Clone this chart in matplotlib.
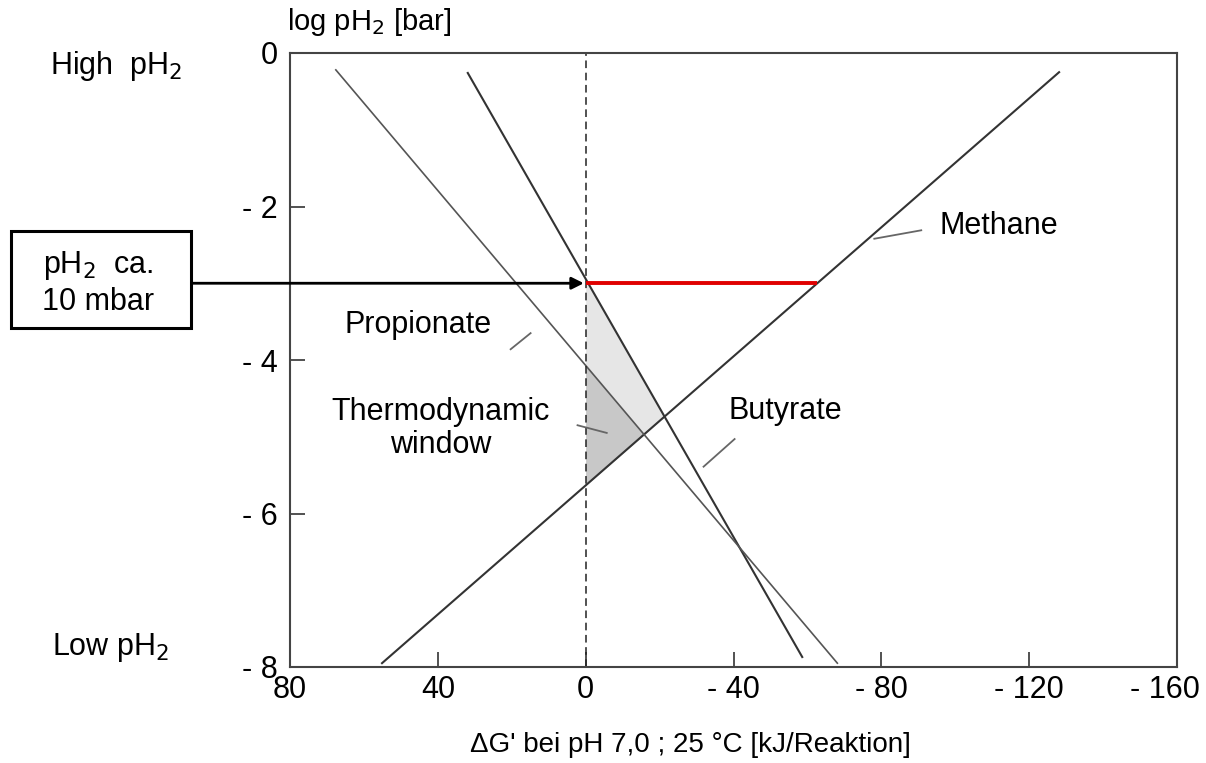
import numpy as np
import matplotlib
matplotlib.use("Agg")
import matplotlib.pyplot as plt
from matplotlib.patches import Rectangle
from matplotlib.transforms import ScaledTranslation

plt.rcParams['font.family'] = ['Liberation Sans', 'DejaVu Sans']

# Endpoints of the lines (dG' in kJ, log pH2 in bar)
methane_x = [55.1, -128.1]
methane_y = [-7.95, -0.25]
butyrate_x = [31.9, -58.6]
butyrate_y = [-0.26, -7.87]
propionate_x = [67.6, -68.1]
propionate_y = [-0.22, -7.95]

ph2_level = -3.0   # 10 mbar

x_ticks = [80, 40, 0, -40, -80, -120, -160]
x_labels = ["80", "40", "0", "- 40", "- 80", "- 120", "- 160"]
y_ticks = [0, -2, -4, -6, -8]
y_labels = ["0", "- 2", "- 4", "- 6", "- 8"]

# labels: text, position, leader line
labels = [
    ("Methane", (-111.9, -2.25), [(-78.1, -2.42), (-90.8, -2.31)]),
    ("Propionate", (45.4, -3.54), [(20.3, -3.86), (14.9, -3.65)]),
    ("Thermodynamic\nwindow", (39.2, -4.89), [(2.2, -4.85), (-5.7, -4.95)]),
    ("Butyrate", (-54.1, -4.66), [(-31.9, -5.39), (-40.3, -5.03)]),
]


def x_at(xs, ys, y):
    order = np.argsort(ys)
    return np.interp(y, np.array(ys)[order], np.array(xs)[order])


W, H = 1206, 763
fig = plt.figure(figsize=(W / 100, H / 100), dpi=100)
ax = fig.add_axes([290 / W, 1 - 667 / H, 887 / W, 614 / H])

# thermodynamic window shading
yy = np.linspace(-8, 0, 2000)
xm = x_at(methane_x, methane_y, yy)
xb = x_at(butyrate_x, butyrate_y, yy)
xp = x_at(propionate_x, propionate_y, yy)
light_edge = np.maximum(xm, xb)
ax.fill_betweenx(yy, 0, light_edge, where=light_edge < 0, color="#e6e6e6", lw=0)
dark_edge = np.maximum(xm, xp)
ax.fill_betweenx(yy, 0, dark_edge, where=dark_edge < 0, color="#c8c8c8", lw=0)

ax.plot(methane_x, methane_y, color="#333333", lw=1.5)
ax.plot(butyrate_x, butyrate_y, color="#333333", lw=1.5)
ax.plot(propionate_x, propionate_y, color="#555555", lw=1.2)

ax.axvline(0, color="#222222", lw=1.1, ls=(0, (5, 3)))

x_end = x_at(methane_x, methane_y, ph2_level)
ax.plot([0, x_end], [ph2_level, ph2_level], color="#e00000", lw=2.8, solid_capstyle="butt")

for text, pos, leader in labels:
    ax.text(pos[0], pos[1], text, fontsize=22, ha="center", va="center", linespacing=1.15)
    (x1, y1), (x2, y2) = leader
    ax.plot([x1, x2], [y1, y2], color="#666666", lw=1.3)

ax.set_xlim(80, -160)
ax.set_ylim(-8, 0)
ax.set_xticks(x_ticks)
ax.set_xticklabels(x_labels)
ax.set_yticks(y_ticks)
ax.set_yticklabels(y_labels)
ax.tick_params(direction="in", length=11, width=1.2, color="#333333", labelsize=22)
ax.tick_params(axis="x", pad=6)
ax.tick_params(axis="y", pad=9)
last = ax.get_xticklabels()[-1]
last.set_transform(last.get_transform() + ScaledTranslation(-12 / 100, 0, fig.dpi_scale_trans))
for s in ax.spines.values():
    s.set_color("#444444")
    s.set_linewidth(1.5)

fig.text(690 / W, 1 - 745 / H, "\u0394G' bei pH 7,0 ; 25 °C [kJ/Reaktion]",
         fontsize=20, ha="center", va="center")
fig.text(287 / W, 1 - 22 / H, "log pH$_2$ [bar]", fontsize=21, ha="left", va="center")
fig.text(50 / W, 1 - 66 / H, "High  pH$_2$", fontsize=22, ha="left", va="center")
fig.text(52 / W, 1 - 647 / H, "Low pH$_2$", fontsize=22, ha="left", va="center")

# 10 mbar box with arrow
fig.patches.append(Rectangle((11 / W, 1 - 328 / H), 180 / W, 97 / H, transform=fig.transFigure,
                             fc="white", ec="black", lw=2.2))
fig.text(98 / W, 1 - 283 / H, "pH$_2$  ca.\n10 mbar", fontsize=22, ha="center",
         va="center", linespacing=1.2)
ax.annotate("", xy=(0.5, ph2_level), xytext=(192 / W, ph2_level),
            textcoords=("figure fraction", "data"),
            arrowprops=dict(arrowstyle="-|>", color="black", lw=2, mutation_scale=18,
                            shrinkA=0, shrinkB=0),
            annotation_clip=False)

fig.savefig("out.png", dpi=100)
